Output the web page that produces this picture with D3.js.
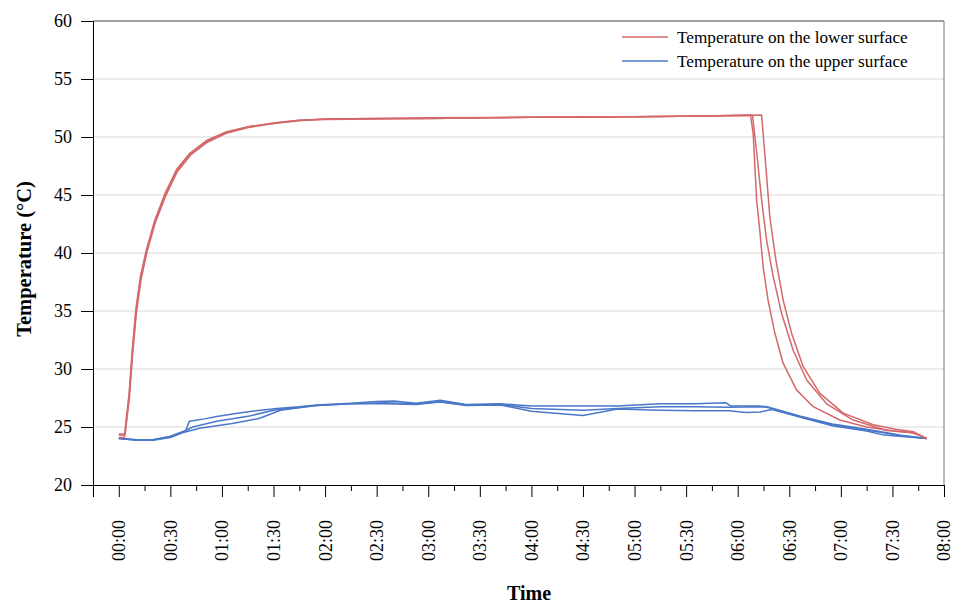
<!DOCTYPE html>
<html>
<head>
<meta charset="utf-8">
<script src="https://cdn.jsdelivr.net/npm/d3@7"></script>
<style>
  body { margin: 0; background: #fff; }
  svg { display: block; }
</style>
</head>
<body>
<svg id="chart" width="957" height="605"></svg>
<script>
// series: [minutes since start, temperature in °C]
var lower1 = [[0,24.4],[3,24.4],[3.5,24.5],[6,27.9],[7.8,31.6],[9.9,35.1],[12.6,38.0],[16.1,40.3],[20.9,42.8],[26.8,45.1],[33.6,47.2],[41.3,48.6],[51,49.7],[62.7,50.45],[76,50.9],[92,51.25],[105,51.45],[120,51.55],[150,51.6],[180,51.65],[240,51.7],[300,51.75],[340,51.8],[367.5,51.85],[369,50.3],[370,47.4],[371,44.6],[373,41.7],[374.8,38.8],[377.7,35.9],[381.6,33.1],[386.4,30.5],[394.2,28.2],[403.9,26.75],[419.4,25.6],[435,25.0],[454,24.6],[462,24.5],[470,24.0]];
var lower2 = [[0,24.1],[3.2,24.1],[3.7,24.4],[6.2,27.6],[8,31.2],[10.2,34.8],[12.9,37.7],[16.4,40.1],[21.2,42.6],[27.2,44.9],[34,47.0],[41.8,48.45],[51.5,49.55],[63,50.35],[76.5,50.85],[92,51.2],[105,51.4],[120,51.55],[150,51.6],[180,51.6],[240,51.7],[300,51.75],[340,51.8],[368.6,51.9],[371.3,48.3],[373.9,44.6],[376.8,41.1],[380.6,38.0],[385.5,34.8],[392.3,31.6],[400.1,29.05],[411.7,27.0],[427.2,25.6],[446.6,24.7],[458,24.6],[466,24.3],[470,24.0]];
var lower3 = [[0,24.3],[3,24.3],[3.6,24.5],[6.1,27.7],[7.9,31.4],[10,34.9],[12.8,37.8],[16.3,40.2],[21,42.7],[27,45.0],[33.8,47.1],[41.5,48.5],[51.2,49.6],[62.8,50.4],[76.2,50.9],[92,51.2],[105,51.45],[120,51.5],[150,51.55],[180,51.6],[240,51.7],[300,51.75],[340,51.8],[373.9,51.9],[376.4,47.4],[378.7,43.1],[382.2,39.4],[386.5,35.9],[391.3,33.1],[398.1,30.2],[407.8,27.9],[421.4,26.2],[438.8,25.2],[452,24.8],[462.1,24.6],[470,24.0]];

var upper1 = [[0,24.0],[5,23.95],[10,23.9],[20,23.9],[30,24.2],[37,24.6],[39,24.7],[41,25.5],[50,25.7],[57,25.9],[70,26.2],[80,26.4],[92,26.6],[105,26.75],[115,26.9],[135,27.05],[150,27.2],[160,27.25],[173,27.05],[187,27.3],[202,26.95],[222,27.0],[240,26.8],[270,26.8],[290,26.8],[315,27.0],[335,27.0],[353,27.1],[356,26.8],[372,26.8],[377,26.75],[396,25.95],[415,25.25],[435,24.8],[455,24.3],[470,24.0]];
var upper2 = [[0,24.0],[10,23.85],[20,23.9],[30,24.15],[37,24.55],[43,25.0],[57,25.5],[76,25.95],[90,26.45],[105,26.7],[115,26.85],[135,27.0],[155,27.1],[173,27.0],[187,27.2],[202,26.9],[222,26.95],[240,26.6],[270,26.45],[290,26.6],[315,26.75],[335,26.75],[355,26.7],[372,26.75],[377,26.7],[396,25.9],[415,25.2],[435,24.75],[455,24.25],[470,24.0]];
var upper3 = [[0,24.05],[10,23.9],[20,23.85],[30,24.1],[37,24.5],[47,24.9],[66,25.3],[82,25.75],[94,26.45],[105,26.65],[115,26.85],[135,27.0],[155,27.0],[173,26.95],[187,27.15],[202,26.85],[222,26.9],[240,26.35],[270,26.0],[290,26.55],[315,26.45],[335,26.4],[355,26.4],[365,26.25],[373,26.3],[380,26.5],[396,25.85],[415,25.1],[435,24.65],[445,24.3],[470,24.0]];

var yTicks = [20, 25, 30, 35, 40, 45, 50, 55, 60];
var xTicks = [0, 30, 60, 90, 120, 150, 180, 210, 240, 270, 300, 330, 360, 390, 420, 450, 480];
var xTickLabels = ["00:00","00:30","01:00","01:30","02:00","02:30","03:00","03:30","04:00","04:30","05:00","05:30","06:00","06:30","07:00","07:30","08:00"];
var legendKeys = ["Temperature on the lower surface", "Temperature on the upper surface"];

var red = "#d4686a", blue = "#4a78c8";
var font = "'Liberation Serif', 'Times New Roman', serif";

var plotLeft = 93, plotRight = 944, plotTop = 21, plotBottom = 485;

var svg = d3.select("#chart");

var xs = d3.scaleLinear().domain([-15, 480]).range([plotLeft, plotRight]);
var ys = d3.scaleLinear().domain([20, 60]).range([plotBottom, plotTop]);

// horizontal gridlines
svg.append("g")
	.selectAll("line")
	.data(yTicks.slice(1))
	.enter().append("line")
	.attr("x1", plotLeft).attr("x2", plotRight)
	.attr("y1", function(d) { return ys(d); })
	.attr("y2", function(d) { return ys(d); })
	.attr("stroke", "#d9d9d9")
	.attr("stroke-width", 1);

// plot border top / right
svg.append("line").attr("x1", plotLeft).attr("x2", plotRight).attr("y1", plotTop).attr("y2", plotTop)
	.attr("stroke", "#555").attr("stroke-width", 1);
svg.append("line").attr("x1", plotRight).attr("x2", plotRight).attr("y1", plotTop).attr("y2", plotBottom)
	.attr("stroke", "#777").attr("stroke-width", 1);

// lines
var line = d3.line()
	.x(function(d) { return xs(d[0]); })
	.y(function(d) { return ys(d[1]); });

[[upper1, blue], [upper2, blue], [upper3, blue], [lower1, red], [lower2, red], [lower3, red]].forEach(function(s) {
	svg.append("path")
		.datum(s[0])
		.attr("fill", "none")
		.attr("stroke", s[1])
		.attr("stroke-width", 1.5)
		.attr("stroke-linejoin", "round")
		.attr("d", line);
});

// y axis
var yAxis = svg.append("g")
	.attr("transform", "translate(" + plotLeft + ",0)")
	.call(d3.axisLeft(ys).tickValues(yTicks).tickSize(12).tickPadding(9));
yAxis.select(".domain").attr("stroke", "#000");
yAxis.selectAll(".tick line").attr("stroke", "#000");
yAxis.selectAll("text").attr("font-family", font).attr("font-size", "18px").attr("fill", "#000");

// x axis: minor ticks every 15 min
var minor = d3.range(-15, 481, 15).filter(function(d) { return d % 30 !== 0; });
var xAxisMinor = svg.append("g")
	.attr("transform", "translate(0," + plotBottom + ")")
	.call(d3.axisBottom(xs).tickValues(minor).tickSize(6).tickFormat(""));
xAxisMinor.select(".domain").remove();
xAxisMinor.selectAll(".tick line").attr("stroke", "#000");

var xAxis = svg.append("g")
	.attr("transform", "translate(0," + plotBottom + ")")
	.call(d3.axisBottom(xs).tickValues(xTicks).tickSize(12)
		.tickFormat(function(d, i) { return xTickLabels[i]; }));
xAxis.select(".domain").attr("stroke", "#000");
xAxis.selectAll(".tick line").attr("stroke", "#000");
xAxis.selectAll("text")
	.attr("font-family", font).attr("font-size", "18px").attr("fill", "#000")
	.attr("text-anchor", "end")
	.attr("transform", "rotate(-90)")
	.attr("x", -35).attr("y", 0).attr("dy", "0.33em");

// axis titles
svg.append("text")
	.attr("transform", "translate(31,259) rotate(-90)")
	.attr("text-anchor", "middle")
	.attr("font-family", font).attr("font-weight", "bold").attr("font-size", "20.5px")
	.text("Temperature (°C)");

svg.append("text")
	.attr("x", 529).attr("y", 600)
	.attr("text-anchor", "middle")
	.attr("font-family", font).attr("font-weight", "bold").attr("font-size", "20px")
	.text("Time");

// legend
var legendColor = d3.scaleOrdinal().domain(legendKeys).range([red, blue]);
var lg = svg.append("g");
lg.selectAll("line")
	.data(legendKeys)
	.enter().append("line")
	.attr("x1", 622).attr("x2", 668)
	.attr("y1", function(d, i) { return 37 + i * 24; })
	.attr("y2", function(d, i) { return 37 + i * 24; })
	.attr("stroke", function(d) { return legendColor(d); })
	.attr("stroke-width", 1.5);
lg.selectAll("text")
	.data(legendKeys)
	.enter().append("text")
	.attr("x", 677)
	.attr("y", function(d, i) { return 37 + i * 24; })
	.attr("dy", "0.33em")
	.attr("font-family", font).attr("font-size", "17.2px").attr("fill", "#000")
	.text(function(d) { return d; });
</script>
</body>
</html>
